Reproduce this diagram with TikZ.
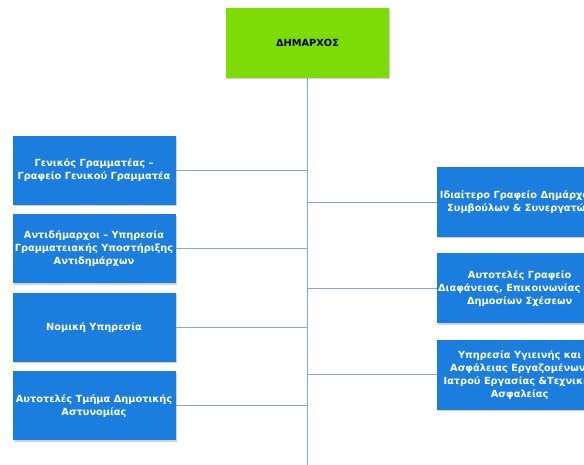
\documentclass[tikz,border=0pt]{standalone}
\usepackage{fontspec}
\usepackage{xcolor}
\newfontfamily\orgfont{DejaVu Sans}
\usetikzlibrary{positioning, shadows}

\definecolor{mayorgreen}{HTML}{7EDC06}
\definecolor{unitblue}{HTML}{1B7DDE}
\definecolor{linkblue}{HTML}{7EA6DA}

\begin{document}
\begin{tikzpicture}[
    x=1pt, y=1pt,
    unit/.style={fill=unitblue, text=white, minimum width=163pt,
                 minimum height=69pt, align=center, inner xsep=1pt,
                 font=\orgfont\bfseries\fontsize{9.8}{13}\selectfont,
                 drop shadow={shadow xshift=1.2pt, shadow yshift=-1.5pt,
                              opacity=0.35}},
    head/.style={unit, fill=mayorgreen, text=black, minimum height=70pt},
    side/.style={unit, minimum width=165pt, minimum height=70pt},
    link/.style={draw=linkblue, line width=0.9pt}
]
\useasboundingbox (0,0) rectangle (584,-465);
\fill[white] (0,0) rectangle (584,-465);

% top
\node[head] (mayor) at (307.5,-43) {ΔΗΜΑΡΧΟΣ};
\coordinate (trunkend) at (307.5,-470);

% left column
\node[unit] (gensec) at (94,-170.5) {Γενικός Γραμματέας –\\Γραφείο Γενικού Γραμματέα};
\node[unit, below=9pt of gensec] (deputies) {Αντιδήμαρχοι – Υπηρεσία\\Γραμματειακής Υποστήριξης\\Αντιδημάρχων};
\node[unit, below=9pt of deputies] (legal) {Νομική Υπηρεσία};
\node[unit, below=9pt of legal] (police) {Αυτοτελές Τμήμα Δημοτικής\\Αστυνομίας};

% right column
\node[side, anchor=west] (office) at (437,-202) {Ιδιαίτερο Γραφείο Δημάρχου,\\Συμβούλων \& Συνεργατών};
\node[side, below=16pt of office] (press) {Αυτοτελές Γραφείο\\Διαφάνειας, Επικοινωνίας και\\Δημοσίων Σχέσεων};
\node[side, below=16pt of press] (safety) {Υπηρεσία Υγιεινής και\\Ασφάλειας Εργαζομένων,\\Ιατρού Εργασίας \&Τεχνικής\\Ασφαλείας};

% links
\draw[link] (mayor) -- (trunkend);
\foreach \u in {gensec, deputies, legal, police}
    \draw[link] (\u.east) -- (\u.east -| mayor);
\foreach \u in {office, press, safety}
    \draw[link] (\u.west) -- (\u.west -| mayor);
\end{tikzpicture}
\end{document}
